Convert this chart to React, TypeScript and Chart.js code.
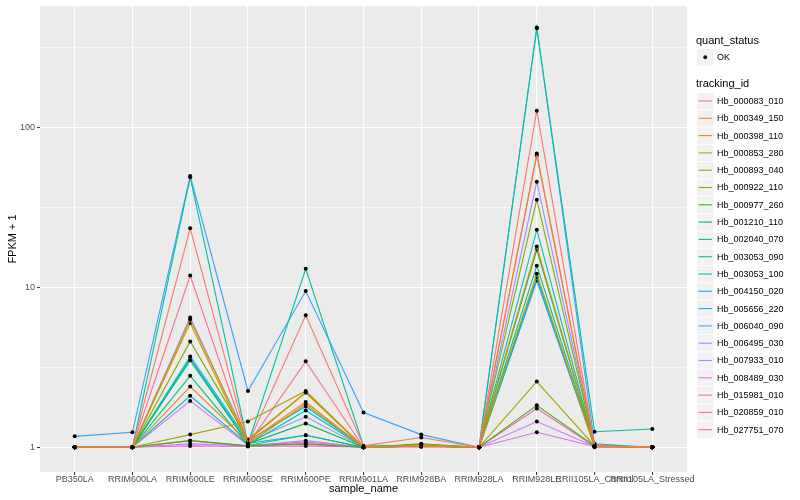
import React, { useEffect, useRef } from "react";
import { Chart, registerables } from "chart.js";

Chart.register(...registerables);

const categories = [
  "PB350LA", "RRIM600LA", "RRIM600LE", "RRIM600SE", "RRIM600PE", "RRIM901LA",
  "RRIM928BA", "RRIM928LA", "RRIM928LE", "RRII105LA_Control", "RRII105LA_Stressed",
];

const trackingIds = [
  "Hb_000083_010", "Hb_000349_150", "Hb_000398_110", "Hb_000853_280", "Hb_000893_040",
  "Hb_000922_110", "Hb_000977_260", "Hb_001210_110", "Hb_002040_070", "Hb_003053_090",
  "Hb_003053_100", "Hb_004150_020", "Hb_005656_220", "Hb_006040_090", "Hb_006495_030",
  "Hb_007933_010", "Hb_008489_030", "Hb_015981_010", "Hb_020859_010", "Hb_027751_070",
];

const colors = [
  "#F8766D", "#EA8331", "#D89000", "#C09B00", "#A3A500", "#7CAE00", "#39B600", "#00BB4E",
  "#00BF7D", "#00C1A3", "#00BFC4", "#00BAE0", "#00B0F6", "#35A2FF", "#9590FF", "#C77CFF",
  "#E76BF3", "#FA62DB", "#FF62BC", "#FF6C91",
];

const s000083_010 = [1, 1, 23.5, 1.05, 6.7, 1.02, 1.15, 1, 128, 1.02, 1];
const s000349_150 = [1, 1, 2.4, 1.08, 1.92, 1, 1.02, 1, 69, 1.02, 1];
const s000398_110 = [1, 1, 6.3, 1.1, 2.2, 1, 1.02, 1, 18.1, 1.02, 1];
const s000853_280 = [1, 1, 6.0, 1.05, 1.86, 1, 1.02, 1, 12.2, 1, 1];
const s000893_040 = [1, 1, 1.2, 1.45, 2.25, 1, 1.04, 1, 2.58, 1.02, 1];
const s000922_110 = [1, 1, 4.6, 1.12, 2.2, 1, 1.03, 1, 35.5, 1.02, 1];
const s000977_260 = [1, 1, 1.1, 1.02, 1.05, 1, 1.05, 1, 1.83, 1.02, 1];
const s001210_110 = [1, 1, 3.5, 1.05, 1.41, 1, 1.04, 1, 17.3, 1.02, 1];
const s002040_070 = [1, 1, 2.8, 1.03, 1.19, 1, 1.02, 1, 13.7, 1.02, 1];
const s003053_090 = [1, 1, 49, 1.05, 13.1, 1.02, 1.02, 1, 420, 1.25, 1.3];
const s003053_100 = [1, 1, 2.1, 1.04, 1.7, 1, 1.02, 1, 23, 1.02, 1];
const s004150_020 = [1, 1, 3.7, 1.1, 1.8, 1, 1.02, 1, 11.6, 1.02, 1];
const s005656_220 = [1, 1, 3.6, 1.06, 1.19, 1, 1.02, 1, 11.1, 1.02, 1];
const s006040_090 = [1.17, 1.24, 50, 2.25, 9.5, 1.65, 1.2, 1, 425, 1.05, 1];
const s006495_030 = [1, 1, 6.5, 1.08, 1.55, 1, 1.02, 1, 46, 1.03, 1];
const s007933_010 = [1, 1, 1.05, 1.02, 1.1, 1, 1.01, 1, 1.45, 1.01, 1];
const s008489_030 = [1, 1, 1.95, 1.03, 1.05, 1, 1.01, 1, 1.24, 1.01, 1];
const s015981_010 = [1, 1, 1.02, 1.01, 1.02, 1, 1.01, 1, 11.1, 1.01, 1];
const s020859_010 = [1, 1, 1.1, 1.02, 1.08, 1, 1.01, 1, 1.75, 1.01, 1];
const s027751_070 = [1, 1, 11.9, 1.04, 3.45, 1, 1.02, 1, 67, 1.02, 1];

const seriesValues = [
  s000083_010, s000349_150, s000398_110, s000853_280, s000893_040, s000922_110,
  s000977_260, s001210_110, s002040_070, s003053_090, s003053_100, s004150_020,
  s005656_220, s006040_090, s006495_030, s007933_010, s008489_030, s015981_010,
  s020859_010, s027751_070,
];

const yMajorTicks = [1, 10, 100];
const yMinorTicks = [3.1623, 31.623, 316.23];

const FONT = "'Liberation Sans', Arial, Helvetica, sans-serif";

const ggPlugin = {
  id: "ggstyle",
  beforeDraw(chart: any) {
    const { ctx, chartArea } = chart;
    ctx.save();
    ctx.fillStyle = "#EBEBEB";
    ctx.fillRect(chartArea.left, chartArea.top, chartArea.right - chartArea.left, chartArea.bottom - chartArea.top);
    ctx.restore();
  },
  afterDraw(chart: any) {
    const { ctx } = chart;
    const x0 = 697;
    ctx.save();
    ctx.textBaseline = "middle";
    ctx.textAlign = "left";
    ctx.fillStyle = "#000000";
    ctx.font = `11px ${FONT}`;
    ctx.fillText("quant_status", 696, 40.5);
    ctx.fillStyle = "#F2F2F2";
    ctx.fillRect(x0, 49, 16.5, 16.5);
    ctx.fillStyle = "#000000";
    ctx.beginPath();
    ctx.arc(x0 + 8.25, 57.25, 1.9, 0, Math.PI * 2);
    ctx.fill();
    ctx.font = `9px ${FONT}`;
    ctx.fillText("OK", 717, 57.5);

    ctx.font = `11px ${FONT}`;
    ctx.fillText("tracking_id", 696, 84);
    const step = 17.3;
    chart.data.datasets.forEach((ds: any, i: number) => {
      const cy = 101 + i * step;
      ctx.fillStyle = "#F2F2F2";
      ctx.fillRect(x0, cy - 8.1, 16.5, 16.3);
      ctx.strokeStyle = ds.borderColor;
      ctx.lineWidth = 1.1;
      ctx.beginPath();
      ctx.moveTo(x0 + 1.7, cy);
      ctx.lineTo(x0 + 14.8, cy);
      ctx.stroke();
      ctx.fillStyle = "#000000";
      ctx.font = `9px ${FONT}`;
      ctx.fillText(ds.label, 717, cy + 0.5);
    });
    ctx.restore();
  },
};

export default function App() {
  const ref = useRef<HTMLCanvasElement | null>(null);
  useEffect(() => {
    if (!ref.current) return;
    const datasets = seriesValues.map((vals, i) => ({
      label: trackingIds[i],
      data: vals.map((v, j) => ({ x: j, y: v })),
      borderColor: colors[i],
      backgroundColor: colors[i],
      borderWidth: 1.1,
      pointRadius: 2,
      pointBorderWidth: 0,
      pointBackgroundColor: "#000000",
      pointBorderColor: "#000000",
      fill: false,
      tension: 0,
    }));
    const chart = new Chart(ref.current, {
      type: "line",
      data: { datasets },
      plugins: [ggPlugin],
      options: {
        animation: false,
        responsive: false,
        devicePixelRatio: 1,
        layout: { padding: { top: 6, right: 113, left: 0, bottom: 0 } },
        plugins: { legend: { display: false }, tooltip: { enabled: false } },
        scales: {
          x: {
            type: "linear",
            min: -0.6,
            max: categories.length - 1 + 0.6,
            afterBuildTicks: (scale: any) => {
              scale.ticks = categories.map((_, i) => ({ value: i }));
            },
            afterFit: (scale: any) => {
              scale.height = 28;
              scale.paddingLeft = 0;
              scale.paddingRight = 0;
            },
            border: { display: false },
            grid: {
              color: "#FFFFFF",
              lineWidth: 1.1,
              drawTicks: true,
              tickLength: 3,
              tickColor: "#333333",
              tickWidth: 1,
            },
            ticks: {
              autoSkip: false,
              maxRotation: 0,
              minRotation: 0,
              padding: -1,
              color: "#4D4D4D",
              font: { family: FONT, size: 9 },
              callback: (v: any) => categories[Math.round(Number(v))] ?? "",
            },
            title: {
              display: true,
              text: "sample_name",
              color: "#000000",
              font: { family: FONT, size: 11 },
              padding: { top: 0, bottom: 4 },
            },
          },
          y: {
            type: "logarithmic",
            min: 0.718,
            max: 579,
            afterBuildTicks: (scale: any) => {
              scale.ticks = [...yMajorTicks, ...yMinorTicks].sort((a, b) => a - b).map((v) => ({ value: v }));
            },
            afterFit: (scale: any) => {
              scale.width = 40;
              scale.paddingTop = 0;
              scale.paddingBottom = 0;
            },
            border: { display: false },
            grid: {
              color: "#FFFFFF",
              lineWidth: (c: any) => (c.tick && yMajorTicks.includes(c.tick.value) ? 1.1 : 0.55),
              drawTicks: true,
              tickLength: 3,
              tickColor: (c: any) => (c.tick && yMajorTicks.includes(c.tick.value) ? "#333333" : "rgba(0,0,0,0)"),
              tickWidth: 1,
            },
            ticks: {
              autoSkip: false,
              padding: 2,
              color: "#4D4D4D",
              font: { family: FONT, size: 9 },
              callback: (v: any) => (yMajorTicks.includes(Number(v)) ? String(v) : ""),
            },
            title: {
              display: true,
              text: "FPKM + 1",
              color: "#000000",
              font: { family: FONT, size: 11 },
              padding: { top: 6, bottom: 0 },
            },
          },
        },
      } as any,
    });
    return () => chart.destroy();
  }, []);
  return (
    <div style={{ position: "fixed", left: 0, top: 0, width: 800, height: 500, background: "#FFFFFF" }}>
      <canvas ref={ref} width={800} height={500} style={{ width: 800, height: 500 }} />
    </div>
  );
}
